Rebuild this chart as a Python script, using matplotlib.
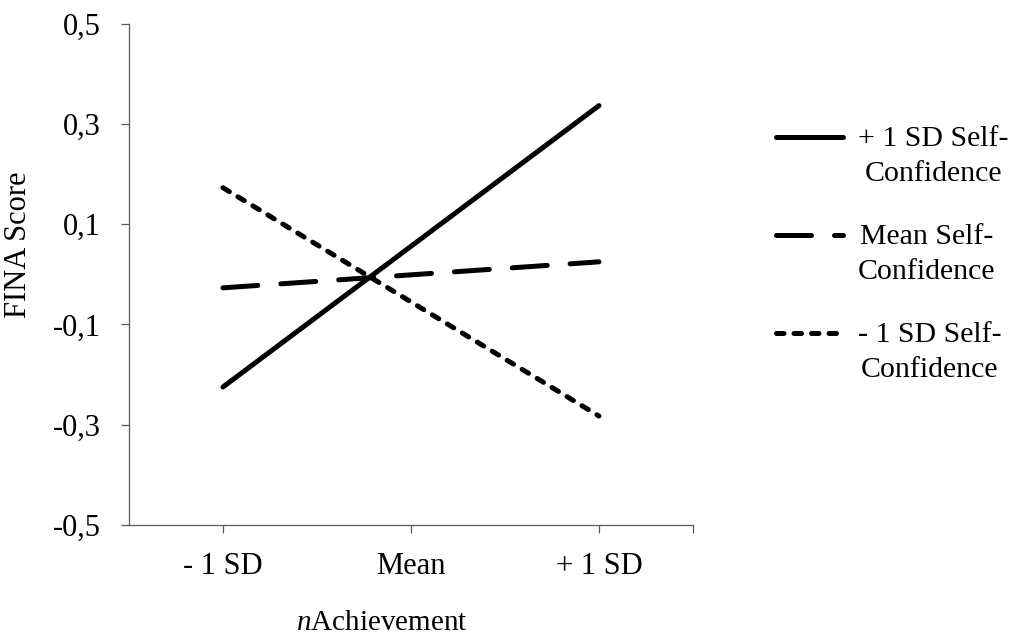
import numpy as np
import matplotlib.pyplot as plt

# Data
categories = ['- 1 SD', 'Mean', '+ 1 SD']
high_conf = [-0.225, 0.056, 0.337]
mean_conf = [-0.027, -0.001, 0.025]
low_conf = [0.173, -0.055, -0.283]
y_ticks = [-0.5, -0.3, -0.1, 0.1, 0.3, 0.5]
series_labels = ['+ 1 SD Self-\nConfidence', 'Mean Self-\nConfidence', '- 1 SD Self-\nConfidence']

plt.rcParams['font.family'] = ['Liberation Serif', 'DejaVu Serif']
plt.rcParams['mathtext.fontset'] = 'custom'
plt.rcParams['mathtext.rm'] = 'Liberation Serif'
plt.rcParams['mathtext.it'] = 'Liberation Serif:italic'

fig = plt.figure(figsize=(10.09, 6.38), dpi=100)
ax = fig.add_axes([0.1278, 0.1776, 0.559, 0.7848])

x = list(range(len(categories)))
lw = 3.6
ax.plot(x, high_conf, color='black', lw=lw, solid_capstyle='round', label=series_labels[0])
ax.plot(x, mean_conf, color='black', lw=lw, dash_capstyle='round', dashes=(7, 4.6), label=series_labels[1])
ax.plot(x, low_conf, color='black', lw=lw, dash_capstyle='round', dashes=(1.5, 2.0), label=series_labels[2])

ax.set_xlim(-0.5, 2.5)
ax.set_ylim(-0.5, 0.5)
ax.set_xticks(x + [2.5])
ax.set_xticklabels(categories + [''])
ax.set_yticks(y_ticks)
ax.set_yticklabels([('%.1f' % v).replace('.', ',') for v in y_ticks])

for side in ['top', 'right']:
    ax.spines[side].set_visible(False)
for side in ['left', 'bottom']:
    ax.spines[side].set_color('#595959')
    ax.spines[side].set_linewidth(0.9)
ax.tick_params(axis='both', direction='out', length=6, width=0.9, color='#595959',
               labelsize=22, pad=14)

ax.set_ylabel('FINA Score', fontsize=22)
ax.yaxis.set_label_coords(-0.17, 0.559)
ax.set_xlabel(r'$\mathit{n}$Achievement', fontsize=21)
ax.xaxis.set_label_coords(0.449, -0.17)

leg = ax.legend(loc='upper left', bbox_to_anchor=(0.769, 0.803), bbox_transform=fig.transFigure,
                frameon=False, fontsize=21.5, handlelength=2.25, handletextpad=0.5,
                labelspacing=1.25, borderpad=0, borderaxespad=0)
for t in leg.get_texts():
    t.set_multialignment('center')
    t.set_linespacing(1.45)
# move each legend line up to the first text line (Excel style)
for line in leg.get_lines():
    line.set_ydata(np.asarray(line.get_ydata()) + 13.7)

fig.savefig('out.png', dpi=100)
